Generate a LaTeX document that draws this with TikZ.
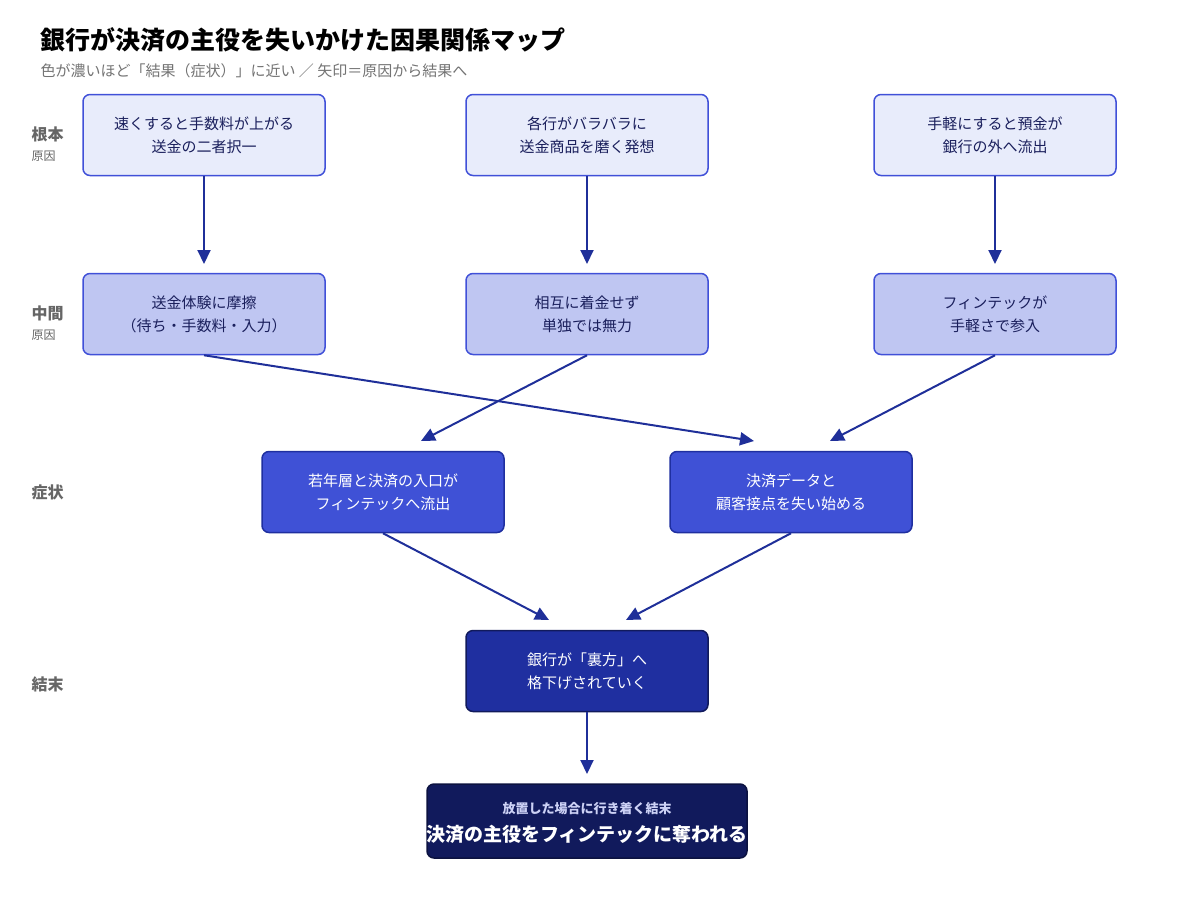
\documentclass[tikz,border=0pt]{standalone}
\usepackage{fontspec}
\setmainfont{Noto Sans CJK JP}
\usetikzlibrary{arrows.meta}
\definecolor{b1}{HTML}{E8ECFB}
\definecolor{b2}{HTML}{BFC6F2}
\definecolor{b3}{HTML}{3F51D6}
\definecolor{b4}{HTML}{1F2FA0}
\definecolor{b5}{HTML}{111A5C}
\definecolor{bd}{HTML}{4050D8}
\definecolor{ar}{HTML}{1F2F99}
\definecolor{tx}{HTML}{1A1F5C}
\begin{document}
\begin{tikzpicture}[x=1pt,y=-1pt,
 box/.style={draw=bd,line width=1.5pt,rounded corners=7pt,minimum width=242pt,minimum height=81pt,align=center,font=\fontsize{15}{23}\selectfont,text=tx,inner sep=0pt},
 r1/.style={box,fill=b1},
 r2/.style={box,fill=b2},
 r3/.style={box,fill=b3,draw=b4,text=white},
 r4/.style={box,fill=b4,draw=b5,text=white},
 arr/.style={draw=ar,line width=2pt,-{Triangle[length=14pt,width=13pt]}},
 lab/.style={anchor=west,font=\bfseries\fontsize{16}{18}\selectfont,text=black!60},
 sub/.style={anchor=west,font=\fontsize{12}{14}\selectfont,text=black!60}]
\useasboundingbox (0,0) rectangle (1200,919);
\node[anchor=west,font=\bfseries\fontsize{25}{28}\selectfont] (title) at (37,40) {銀行が決済の主役を失いかけた因果関係マップ};
\node[anchor=west,font=\fontsize{15}{18}\selectfont,text=black!55] (subt) at (37,71) {色が濃いほど「結果（症状）」に近い ／ 矢印＝原因から結果へ};
\node[lab] (l1) at (28,134) {根本};
\node[sub] (l1s) at (28,156) {原因};
\node[lab] (l2) at (28,313) {中間};
\node[sub] (l2s) at (28,335) {原因};
\node[lab] (l3) at (28,492) {症状};
\node[lab] (l4) at (28,684) {結末};
\node[r1] (a1) at (204,135) {速くすると手数料が上がる\\送金の二者択一};
\node[r1] (a2) at (587,135) {各行がバラバラに\\送金商品を磨く発想};
\node[r1] (a3) at (995,135) {手軽にすると預金が\\銀行の外へ流出};
\node[r2] (b1n) at (204,314) {送金体験に摩擦\\（待ち・手数料・入力）};
\node[r2] (b2n) at (587,314) {相互に着金せず\\単独では無力};
\node[r2] (b3n) at (995,314) {フィンテックが\\手軽さで参入};
\node[r3] (c1) at (383,492) {若年層と決済の入口が\\フィンテックへ流出};
\node[r3] (c2) at (791,492) {決済データと\\顧客接点を失い始める};
\node[r4] (d1) at (587,671) {銀行が「裏方」へ\\格下げされていく};
\node[box,fill=b5,draw=b5!70!black,minimum width=320pt,minimum height=74pt] (e1) at (587,821) {};
\node[font=\bfseries\fontsize{13}{15}\selectfont,text=b2!80!white] (e1a) at (587,809) {放置した場合に行き着く結末};
\node[font=\bfseries\fontsize{19}{22}\selectfont,text=white] (e1b) at (587,834) {決済の主役をフィンテックに奪われる};
\coordinate (t1) at (204,264);
\coordinate (t2) at (587,264);
\coordinate (t3) at (995,264);
\coordinate (t4) at (754,441);
\coordinate (t5) at (421,441);
\coordinate (t6) at (830,441);
\coordinate (t7) at (549,620);
\coordinate (t8) at (626,620);
\coordinate (t9) at (587,774);
\draw[arr] (a1.south) -- (t1);
\draw[arr] (a2.south) -- (t2);
\draw[arr] (a3.south) -- (t3);
\draw[arr] (b1n.south) -- (t4);
\draw[arr] (b2n.south) -- (t5);
\draw[arr] (b3n.south) -- (t6);
\draw[arr] (c1.south) -- (t7);
\draw[arr] (c2.south) -- (t8);
\draw[arr] (d1.south) -- (t9);
\end{tikzpicture}
\end{document}
